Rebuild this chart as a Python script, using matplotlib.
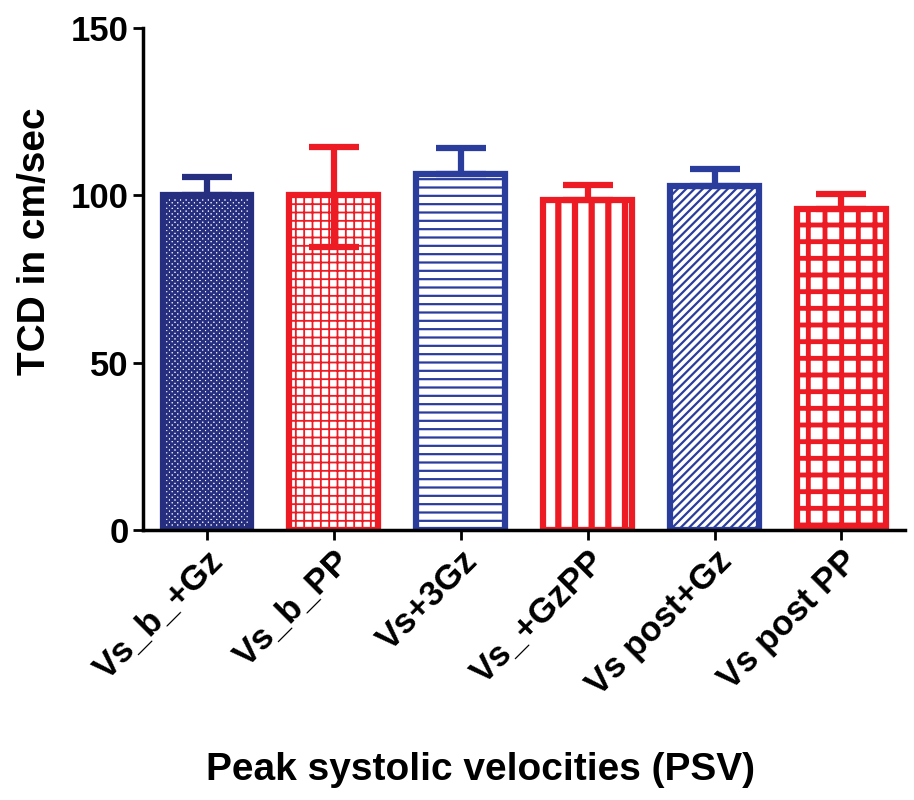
import numpy as np
import matplotlib.pyplot as plt

# -----------------------------------
# Data
# -----------------------------------

groups = ["Vs_b_+Gz", "Vs_b_PP", "Vs+3Gz", "Vs_+GzPP", "Vs post+Gz", "Vs post PP"]
means = [100, 100, 106.5, 98.6, 102.8, 96.0]
err_upper = [5.5, 14.5, 7.7, 4.5, 5.0, 4.3]
err_lower = [0, 15.4, 0, 0, 0, 0]

colors = ["#262f7f", "#ed1c24", "#2b3d9c", "#ed1c24", "#2b3d9c", "#ed1c24"]
hatches = ["xxxxxx", "++", "--", "|", "////", "+"]
hatch_widths = [1.8, 1.3, 1.6, 4.5, 1.6, 3.5]

plt.rcParams["font.family"] = ["Liberation Sans", "DejaVu Sans"]
plt.rcParams["font.weight"] = "bold"

fig = plt.figure(figsize=(9.14, 8), dpi=100)
ax = fig.add_axes([0.157, 0.3375, 0.833, 0.6275])

x = np.arange(len(groups))

# -----------------------------------
# Bars
# -----------------------------------

for i in range(len(groups)):
    with plt.rc_context({"hatch.linewidth": hatch_widths[i], "hatch.color": colors[i]}):
        ax.bar(x[i], means[i], width=0.7, color="white", edgecolor=colors[i],
               hatch=hatches[i], linewidth=4.5, zorder=2)
    ax.errorbar(x[i], means[i], yerr=[[err_lower[i]], [err_upper[i]]],
                fmt="none", ecolor=colors[i], elinewidth=4.5, capsize=18,
                capthick=4.5, zorder=3)

# -----------------------------------
# Axes styling
# -----------------------------------

ax.set_xlim(-0.5, 5.5)
ax.set_ylim(0, 150)
ax.set_yticks([0, 50, 100, 150])
ax.spines["top"].set_visible(False)
ax.spines["right"].set_visible(False)
ax.spines["left"].set_linewidth(2.5)
ax.spines["bottom"].set_linewidth(2.5)
ax.tick_params(axis="both", width=2, length=7, labelsize=25)

ax.set_xticks(x)
ax.set_xticklabels(groups, rotation=45, ha="right", rotation_mode="anchor",
                   fontweight="bold")
for lbl in ax.get_yticklabels():
    lbl.set_fontweight("bold")

ax.set_ylabel("TCD in cm/sec", fontsize=28, fontweight="bold")
ax.set_xlabel("Peak systolic velocities (PSV)", fontsize=28, fontweight="bold")
ax.yaxis.set_label_coords(-0.142, 0.576)
ax.xaxis.set_label_coords(0.442, -0.478)
ax.xaxis.label.set_va("center")
ax.yaxis.label.set_va("center")

fig.savefig("out.png", dpi=100)
